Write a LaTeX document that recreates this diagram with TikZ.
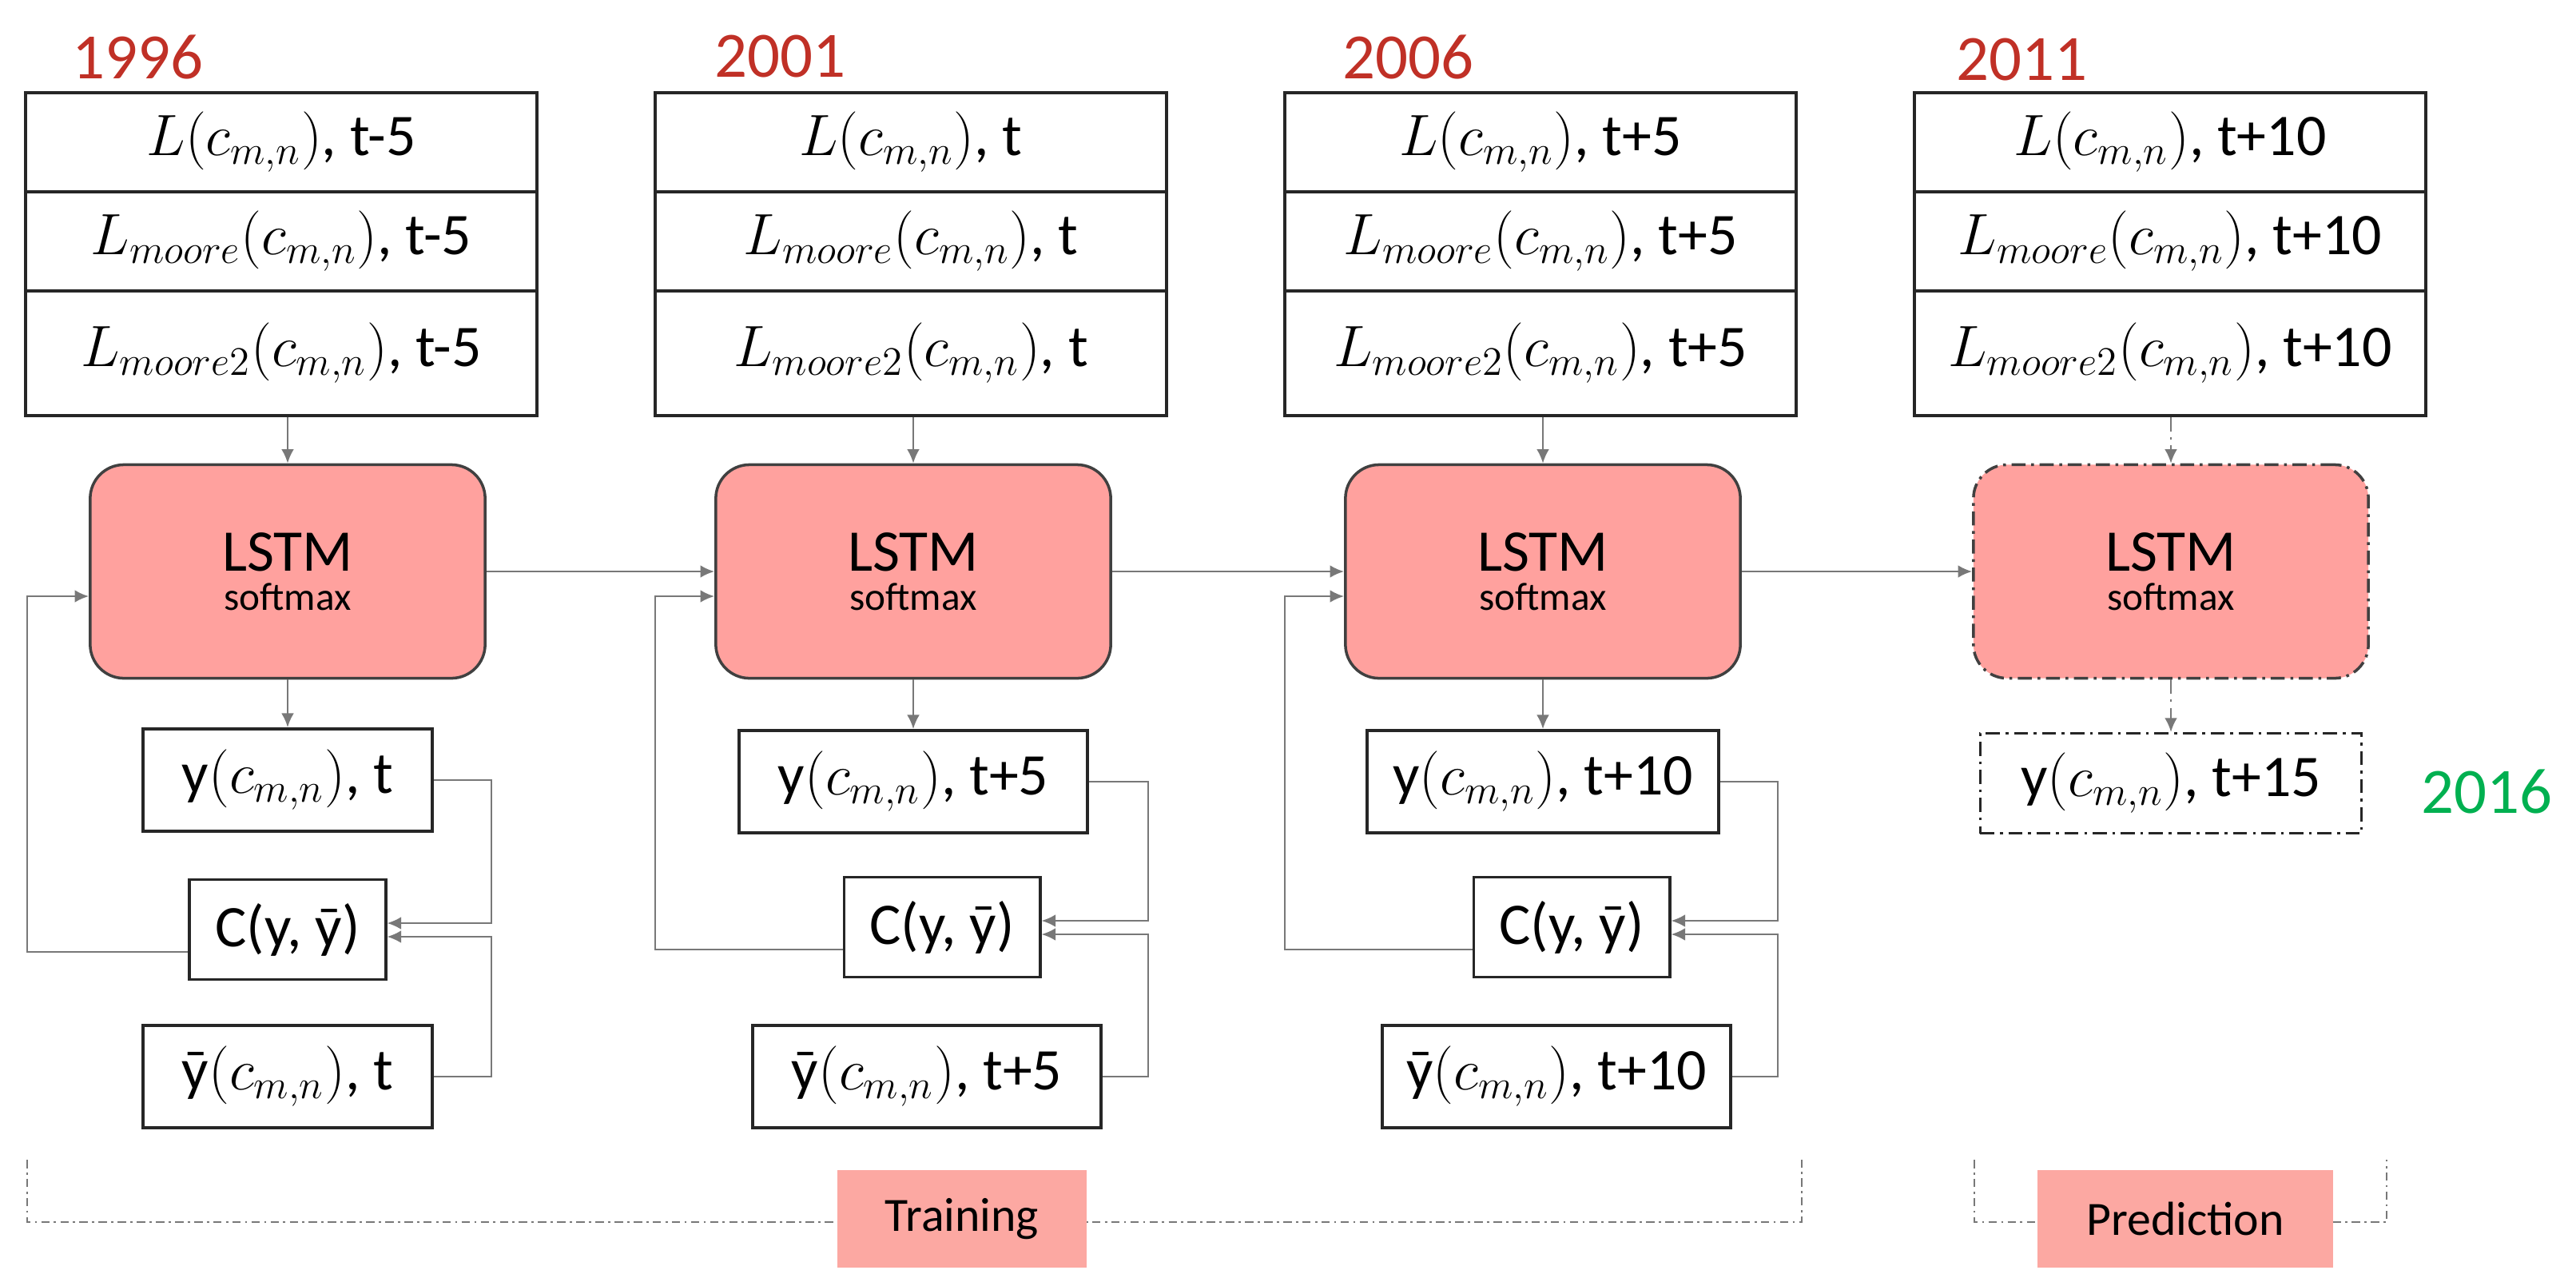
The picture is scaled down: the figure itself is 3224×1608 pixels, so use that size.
\documentclass[tikz,border=0pt]{standalone}
\usepackage{fontspec}
\setmainfont{Carlito}
\usetikzlibrary{calc,arrows.meta}
\definecolor{pinkf}{RGB}{255,161,158}
\definecolor{pinkt}{RGB}{252,168,162}
\definecolor{yred}{RGB}{192,48,38}
\definecolor{ygreen}{RGB}{0,176,80}
\definecolor{lgray}{RGB}{120,120,120}
\begin{document}
\begin{tikzpicture}[x=0.01cm,y=-0.01cm,
  >={Latex[length=5pt,width=4.5pt]},
  box/.style={draw=black!85,line width=1.1pt,minimum width=6.4cm,inner sep=0pt,font=\fontsize{21}{24}\selectfont},
  lstm/.style={draw=black!75,line width=1pt,fill=pinkf,rounded corners=12pt,minimum width=4.94cm,minimum height=2.67cm,align=center,inner sep=0pt},
  sbox/.style={draw=black!85,line width=1.1pt,minimum height=1.28cm,inner sep=0pt,font=\fontsize{21}{24}\selectfont},
  cbox/.style={draw=black!85,line width=1.1pt,minimum height=1.25cm,minimum width=2.45cm,inner sep=0pt,font=\fontsize{21}{24}\selectfont},
  conn/.style={draw=lgray,line width=0.7pt},
  dd/.style={dash pattern=on 5pt off 2pt on 1pt off 2pt},
  yr/.style={font=\fontsize{23}{26}\selectfont,text=yred},
  brk/.style={draw=lgray,line width=0.6pt,dash pattern=on 3pt off 1.5pt on 0.8pt off 1.5pt},
  tag/.style={fill=pinkt,minimum height=1.21cm,font=\fontsize{17}{20}\selectfont}]
\useasboundingbox (0,0) rectangle (3224,1608);

% years
\node[yr] (y1996) at (172,71) {1996};
\node[yr] (y2001) at (976,71) {2001};
\node[yr] (y2006) at (1762,71) {2006};
\node[yr] (y2011) at (2530,75) {2011};
\node[font=\fontsize{23}{26}\selectfont,text=ygreen] (y2016) at (3112,990) {2016};

% top boxes
\foreach \i/\cx/\t in {1/352/t-5, 2/1140/t, 3/1928/t+5, 4/2716/t+10}{
  \node[box,minimum height=1.24cm] (a\i) at (\cx,178) {$L(c_{m,n})$, \t};
  \node[box,minimum height=1.24cm] (b\i) at (\cx,302) {$L_{moore}(c_{m,n})$, \t};
  \node[box,minimum height=1.56cm] (c\i) at (\cx,442) {$L_{moore2}(c_{m,n})$, \t};
}
% LSTM
\foreach \i/\cx in {1/360,2/1143,3/1931}{
  \node[lstm] (l\i) at (\cx,715) {\fontsize{21}{24}\selectfont LSTM\\[2pt]\fontsize{14}{16}\selectfont softmax};
}
\node[lstm,dd] (l4) at (2717,715) {\fontsize{21}{24}\selectfont LSTM\\[2pt]\fontsize{14}{16}\selectfont softmax};

% outputs
\node[sbox,minimum width=3.61cm] (o1) at (360,976) {y$(c_{m,n})$, t};
\node[sbox,minimum width=4.35cm] (o2) at (1143,978) {y$(c_{m,n})$, t+5};
\node[sbox,minimum width=4.4cm] (o3) at (1931,978) {y$(c_{m,n})$, t+10};
\node[sbox,dd,line width=0.9pt,minimum width=4.77cm,minimum height=1.25cm] (o4) at (2717,980) {y$(c_{m,n})$, t+15};

\node[cbox] (k1) at (360,1163) {C(y, \=y)};
\node[cbox] (k2) at (1179,1160) {C(y, \=y)};
\node[cbox] (k3) at (1967,1160) {C(y, \=y)};

\node[sbox,minimum width=3.61cm] (g1) at (360,1347) {\=y$(c_{m,n})$, t};
\node[sbox,minimum width=4.36cm] (g2) at (1160,1347) {\=y$(c_{m,n})$, t+5};
\node[sbox,minimum width=4.36cm] (g3) at (1948,1347) {\=y$(c_{m,n})$, t+10};

% vertical arrows
\foreach \i in {1,2,3}{
  \draw[conn,->] (c\i.south -| l\i) -- (l\i.north);
  \draw[conn,->] (l\i.south) -- (l\i.south |- o\i.north);
}
\draw[conn,dd,->] (c4.south -| l4) -- (l4.north);
\draw[conn,dd,->] (l4.south) -- (o4.north);

% horizontal LSTM chain
\draw[conn,->] (l1.east) -- (l2.west);
\draw[conn,->] (l2.east) -- (l3.west);
\draw[conn,->] (l3.east) -- (l4.west);

% feedback loops
\foreach \i/\rx/\lx in {1/615/34, 2/1437/820, 3/2225/1608}{
  \coordinate (r\i) at (\rx,0);
  \coordinate (f\i) at (\lx,0);
  \draw[conn,->] (o\i.east) -- (o\i.east -| r\i) |- ($(k\i.east)+(0,-8)$);
  \draw[conn,->] (g\i.east) -- (g\i.east -| r\i) |- ($(k\i.east)+(0,9)$);
  \draw[conn,->] ($(k\i.west)+(0,28)$) -| ($(f\i |- l\i.west)+(0,31)$) -- ($(l\i.west)+(0,31)$);
}

% brackets
\coordinate (t1) at (34,1451);
\coordinate (t2) at (2255,1451);
\coordinate (p1) at (2471,1451);
\coordinate (p2) at (2987,1451);
\draw[brk] (t1) -- ++(0,78) -- ($(t2)+(0,78)$) -- (t2);
\draw[brk] (p1) -- ++(0,78) -- ($(p2)+(0,78)$) -- (p2);
\node[tag,minimum width=3.12cm] (train) at (1204,1525) {Training};
\node[tag,minimum width=3.7cm] (pred) at (2735,1525) {Prediction};
\end{tikzpicture}
\end{document}
